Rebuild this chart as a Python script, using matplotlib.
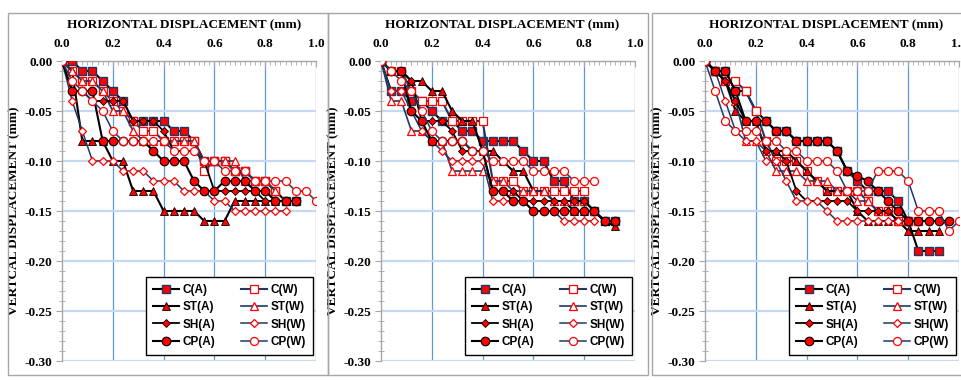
import matplotlib
matplotlib.use("Agg")
import matplotlib.pyplot as plt
from matplotlib.patches import Rectangle
from matplotlib.ticker import MultipleLocator, FormatStrFormatter

# ---------------- data ----------------
STEP = 0.04
def xs(n):
    return [round(i * STEP, 2) for i in range(n)]

# Panel 1
P1_CA = [0, 0, -.01, -.01, -.02, -.03, -.04, -.06, -.06, -.06, -.06, -.07, -.07, -.08, -.10, -.10, -.10, -.11, -.11, -.12, -.12, -.13, -.14, -.14]
P1_CW = [0, -.01, -.02, -.02, -.03, -.04, -.05, -.06, -.07, -.07, -.08, -.08, -.08, -.08, -.11, -.10, -.10, -.11, -.11, -.12, -.12, -.13]
P1_STA = [0, -.01, -.08, -.08, -.08, -.10, -.10, -.13, -.13, -.13, -.15, -.15, -.15, -.15, -.16, -.16, -.16, -.14, -.14, -.14, -.14, -.14, -.14]
P1_STW = [0, -.01, -.02, -.02, -.03, -.05, -.05, -.07, -.08, -.08, -.08, -.08, -.08, -.08, -.10, -.10, -.10, -.10, -.12, -.12, -.12, -.13]
P1_SHA = [0, -.03, -.03, -.04, -.04, -.04, -.04, -.06, -.06, -.06, -.07, -.09, -.09, -.09, -.10, -.13, -.13, -.13, -.13, -.13, -.14, -.14, -.14, -.14]
P1_SHW = [0, -.04, -.07, -.10, -.10, -.10, -.11, -.11, -.11, -.12, -.12, -.12, -.13, -.13, -.13, -.14, -.14, -.15, -.15, -.15, -.15, -.15, -.15]
P1_CPA = [0, -.03, -.03, -.03, -.08, -.08, -.08, -.08, -.08, -.09, -.10, -.10, -.10, -.12, -.13, -.13, -.12, -.12, -.12, -.13, -.13, -.14, -.14, -.14]
P1_CPW = [0, -.02, -.03, -.04, -.05, -.07, -.08, -.08, -.08, -.08, -.08, -.09, -.09, -.09, -.10, -.10, -.11, -.11, -.11, -.12, -.12, -.12, -.12, -.13, -.13, -.14]

# Panel 2
P2_CA = [0, -.03, -.03, -.04, -.04, -.05, -.06, -.06, -.07, -.07, -.08, -.08, -.08, -.08, -.09, -.10, -.10, -.12, -.12, -.14, -.14, -.15, -.16, -.16]
P2_CW = [0, -.01, -.01, -.03, -.04, -.04, -.04, -.06, -.06, -.06, -.06, -.12, -.12, -.12, -.13, -.13, -.13, -.13, -.13, -.13, -.13]
P2_STA = [0, -.01, -.01, -.02, -.02, -.03, -.03, -.05, -.06, -.06, -.09, -.09, -.10, -.11, -.11, -.13, -.13, -.14, -.14, -.15, -.15, -.15, -.16, -.165]
P2_STW = [0, -.04, -.04, -.07, -.07, -.08, -.08, -.11, -.11, -.11, -.11, -.12, -.12, -.13, -.13, -.13, -.13, -.14, -.14, -.14, -.14, -.15]
P2_SHA = [0, -.01, -.01, -.02, -.06, -.06, -.06, -.07, -.09, -.09, -.09, -.13, -.13, -.13, -.14, -.14, -.14, -.14, -.14, -.14, -.14, -.15, -.16]
P2_SHW = [0, -.03, -.03, -.05, -.07, -.08, -.09, -.10, -.10, -.10, -.10, -.14, -.14, -.14, -.14, -.15, -.15, -.15, -.16, -.16, -.16, -.16]
P2_CPA = [0, -.01, -.01, -.05, -.06, -.08, -.08, -.08, -.08, -.09, -.09, -.13, -.13, -.14, -.14, -.15, -.15, -.15, -.15, -.15, -.15, -.15, -.16, -.16]
P2_CPW = [0, -.01, -.02, -.03, -.05, -.07, -.08, -.08, -.08, -.09, -.09, -.10, -.10, -.10, -.10, -.11, -.11, -.11, -.11, -.12, -.12, -.12]

# Panel 3
P3_CA = [0, -.01, -.01, -.03, -.03, -.05, -.06, -.07, -.07, -.08, -.08, -.08, -.08, -.09, -.11, -.12, -.13, -.13, -.13, -.14, -.16, -.19, -.19, -.19]
P3_CW = [0, -.01, -.02, -.02, -.03, -.05, -.08, -.10, -.10, -.10, -.11, -.12, -.13, -.13, -.13, -.13, -.14, -.15, -.15, -.16, -.16, -.16]
P3_STA = [0, -.01, -.02, -.05, -.06, -.06, -.09, -.09, -.09, -.10, -.11, -.12, -.13, -.13, -.13, -.15, -.16, -.16, -.16, -.16, -.17, -.17, -.17, -.17]
P3_STW = [0, -.01, -.02, -.04, -.08, -.08, -.09, -.11, -.11, -.11, -.12, -.12, -.12, -.13, -.13, -.14, -.14, -.15, -.15, -.16, -.16, -.16]
P3_SHA = [0, -.01, -.02, -.04, -.06, -.06, -.09, -.09, -.10, -.13, -.14, -.14, -.14, -.14, -.14, -.15, -.15, -.15, -.15, -.16, -.16, -.16, -.16, -.16]
P3_SHW = [0, -.01, -.04, -.07, -.08, -.08, -.10, -.10, -.12, -.14, -.14, -.14, -.15, -.16, -.16, -.16, -.16, -.16, -.16, -.16, -.16, -.16, -.16, -.16]
P3_CPA = [0, -.01, -.01, -.03, -.06, -.06, -.06, -.07, -.07, -.08, -.08, -.08, -.08, -.09, -.11, -.115, -.12, -.13, -.14, -.15, -.16, -.16, -.16, -.16, -.16]
P3_CPW = [0, -.03, -.06, -.07, -.07, -.07, -.08, -.08, -.09, -.09, -.10, -.10, -.10, -.11, -.13, -.13, -.13, -.11, -.11, -.11, -.12, -.15, -.15, -.15, -.17, -.16]

LABELS = ["C(A)", "C(W)", "ST(A)", "ST(W)", "SH(A)", "SH(W)", "CP(A)", "CP(W)"]
PANELS = [
    [P1_CA, P1_CW, P1_STA, P1_STW, P1_SHA, P1_SHW, P1_CPA, P1_CPW],
    [P2_CA, P2_CW, P2_STA, P2_STW, P2_SHA, P2_SHW, P2_CPA, P2_CPW],
    [P3_CA, P3_CW, P3_STA, P3_STW, P3_SHA, P3_SHW, P3_CPA, P3_CPW],
]
X_TICKS = [0.0, 0.2, 0.4, 0.6, 0.8, 1.0]
Y_TICKS = [0.00, -0.05, -0.10, -0.15, -0.20, -0.25, -0.30]

# ---------------- styles ----------------
RED = "#FF0000"
NAVY = "#1F3864"
STYLES = [
    dict(color="black", lw=1.5, marker="s", ms=5.6, mfc=RED, mec=NAVY, mew=1.0),
    dict(color=NAVY, lw=1.5, marker="s", ms=5.6, mfc="white", mec=RED, mew=0.9),
    dict(color="black", lw=1.5, marker="^", ms=5.8, mfc=RED, mec="black", mew=0.6),
    dict(color=NAVY, lw=1.2, marker="^", ms=5.8, mfc="white", mec=RED, mew=0.9),
    dict(color="black", lw=1.3, marker="D", ms=3.6, mfc=RED, mec="black", mew=0.6),
    dict(color=NAVY, lw=1.1, marker="D", ms=3.6, mfc="white", mec=RED, mew=0.9),
    dict(color="black", lw=1.5, marker="o", ms=6.2, mfc=RED, mec="black", mew=0.8),
    dict(color=NAVY, lw=1.1, marker="o", ms=5.8, mfc="white", mec=RED, mew=0.9),
]

SERIF = ["Liberation Serif", "DejaVu Serif"]
SANS = ["Liberation Sans Narrow", "Liberation Sans", "DejaVu Sans"]

W, H = 961, 380
fig = plt.figure(figsize=(W / 100, H / 100), dpi=100)

ax_lefts = [62, 381, 705]
ax_w = 254
ax_top, ax_bot = 61, 361
boxes = [(8, 328), (328, 648), (652, 975)]
title_cx = [184, 502, 826]

def fx(px):
    return px / W

def fy(py):
    return 1 - py / H

for (bx0, bx1) in boxes:
    fig.patches.append(Rectangle((fx(bx0), fy(375)), fx(bx1 - bx0), (375 - 13) / H,
                                 transform=fig.transFigure, fill=False,
                                 edgecolor="#A6A6A6", lw=1.0))

# legend order filled column-wise so that rows read C(A) C(W) / ST(A) ST(W) ...
LEG_ORDER = [0, 2, 4, 6, 1, 3, 5, 7]

for pi, series in enumerate(PANELS):
    ax = fig.add_axes([fx(ax_lefts[pi]), fy(ax_bot), ax_w / W, (ax_bot - ax_top) / H])
    ax.set_xlim(0, 1.0)
    ax.set_ylim(-0.30, 0.0)
    ax.set_axisbelow(True)
    for xv in X_TICKS[1:]:
        ax.axvline(xv, color="#5B9BD5", lw=0.9, zorder=0)
    for yv in Y_TICKS[1:]:
        ax.axhline(yv, color="#C5D9F1", lw=1.6, zorder=0)
    handles = []
    for yvals, lab, st in zip(series, LABELS, STYLES):
        h, = ax.plot(xs(len(yvals)), yvals, label=lab, zorder=3, **st)
        handles.append(h)
    ax.xaxis.tick_top()
    ax.set_xticks(X_TICKS)
    ax.set_yticks(Y_TICKS)
    ax.xaxis.set_major_formatter(FormatStrFormatter("%.1f"))
    ax.yaxis.set_major_formatter(FormatStrFormatter("%.2f"))
    ax.xaxis.set_minor_locator(MultipleLocator(0.02))
    ax.yaxis.set_minor_locator(MultipleLocator(0.01))
    for s in ["right", "bottom"]:
        ax.spines[s].set_visible(False)
    for s in ["left", "top"]:
        ax.spines[s].set_color("#A6A6A6")
        ax.spines[s].set_linewidth(1.0)
    ax.tick_params(axis="x", which="major", direction="in", length=4, color="#A6A6A6", pad=8)
    ax.tick_params(axis="x", which="minor", direction="in", length=3, color="#A6A6A6")
    ax.tick_params(axis="y", which="major", direction="out", length=4, color="#A6A6A6", pad=3)
    ax.tick_params(axis="y", which="minor", direction="inout", length=4, color="#A6A6A6")
    for t in ax.get_xticklabels() + ax.get_yticklabels():
        t.set_fontfamily(SERIF)
        t.set_fontweight("bold")
        t.set_fontsize(9.5)
    ax.set_ylabel("VERTCAL DISPLACEMENT (mm)", fontfamily=SERIF, fontweight="bold",
                  fontsize=9.5, labelpad=3)
    fig.text(fx(title_cx[pi]), fy(25), "HORIZONTAL DISPLACEMENT (mm)", ha="center",
             va="center", fontfamily=SERIF, fontweight="bold", fontsize=9.5)
    leg = ax.legend(handles=[handles[i] for i in LEG_ORDER], ncol=2, loc="lower right",
                    bbox_to_anchor=(0.988, 0.02), borderaxespad=0,
                    prop=dict(family=SANS, weight="bold", size=8.5),
                    fancybox=False, framealpha=1, edgecolor="black",
                    handlelength=2.2, handletextpad=0.3, columnspacing=2.2,
                    labelspacing=0.45, borderpad=0.6)
    leg.get_frame().set_linewidth(1.0)
    leg.set_zorder(5)

fig.savefig("out.png", dpi=100)
